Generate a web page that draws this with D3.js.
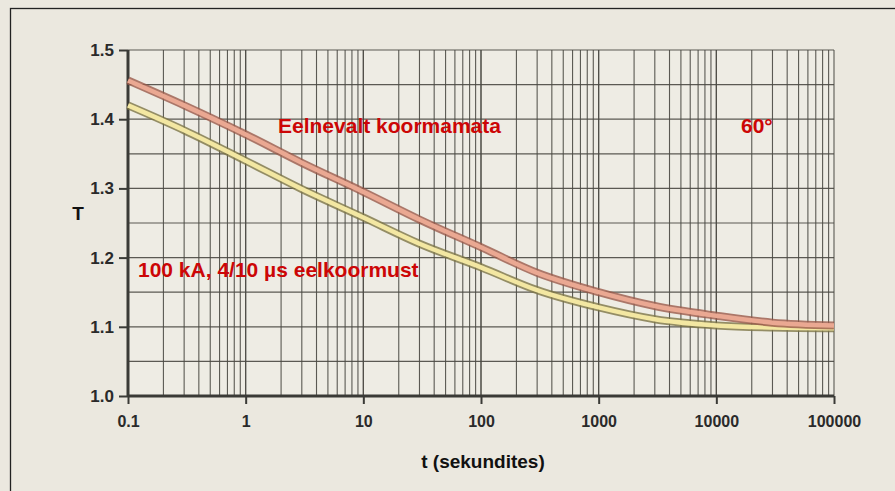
<!DOCTYPE html>
<html>
<head>
<meta charset="utf-8">
<script src="https://cdn.jsdelivr.net/npm/d3@7"></script>
<style>
  body { margin: 0; background: #ebe8df; }
  svg { display: block; }
  text { font-family: "Liberation Sans", Arial, sans-serif; font-weight: bold; }
</style>
</head>
<body>
<div id="chart"></div>
<script>
// time values (seconds), log axis
var times = [0.1, 0.3, 1, 3, 10, 30, 100, 300, 1000, 3000, 10000, 30000, 100000];
// T values
var upperT = [1.456, 1.420, 1.378, 1.337, 1.295, 1.255, 1.215, 1.178, 1.150, 1.130, 1.116, 1.106, 1.102];
var lowerT = [1.420, 1.384, 1.340, 1.299, 1.258, 1.220, 1.186, 1.153, 1.128, 1.111, 1.102, 1.099, 1.098];
var xTicks = [0.1, 1, 10, 100, 1000, 10000, 100000];
var xTickLabels = ["0.1", "1", "10", "100", "1000", "10000", "100000"];
var yTicks = [1.0, 1.1, 1.2, 1.3, 1.4, 1.5];
var yTickLabels = ["1.0", "1.1", "1.2", "1.3", "1.4", "1.5"];

var width = 895, height = 491;
var svg = d3.select("#chart").append("svg").attr("width", width).attr("height", height);

// frame
svg.append("rect").attr("x", 10.5).attr("y", 8.5).attr("width", 900).attr("height", 500)
  .attr("fill", "#ebe8df").attr("stroke", "#222").attr("stroke-width", 1.3);

var x = d3.scaleLog().domain([0.1, 100000]).range([128, 834]);
var y = d3.scaleLinear().domain([1.0, 1.5]).range([396, 50]);

// plot background
svg.append("rect").attr("x", x(0.1)).attr("y", y(1.5))
  .attr("width", x(100000) - x(0.1)).attr("height", y(1.0) - y(1.5))
  .attr("fill", "#eeece4");

// vertical grid (log minor lines)
var vGrid = [];
for (var d = -1; d < 5; d++) {
  for (var k = 1; k <= 10; k++) vGrid.push(k * Math.pow(10, d));
}
svg.append("g").selectAll("line").data(vGrid).enter().append("line")
  .attr("x1", function(v) { return x(v); }).attr("x2", function(v) { return x(v); })
  .attr("y1", y(1.5)).attr("y2", y(1.0))
  .attr("stroke", "#4a4942").attr("stroke-opacity", 0.9).attr("stroke-width", 1.1);

// horizontal grid every 0.05
var hGrid = d3.range(0, 11).map(function(i) { return 1 + i * 0.05; });
svg.append("g").selectAll("line").data(hGrid).enter().append("line")
  .attr("x1", x(0.1)).attr("x2", x(100000))
  .attr("y1", function(v) { return y(v); }).attr("y2", function(v) { return y(v); })
  .attr("stroke", "#4a4942").attr("stroke-opacity", 0.9).attr("stroke-width", 1.2);

// axes
var yAxis = d3.axisLeft(y).tickValues(yTicks)
  .tickFormat(function(d, i) { return yTickLabels[i]; }).tickSize(9).tickPadding(5);
var gy = svg.append("g").attr("transform", "translate(" + x(0.1) + ",0)").call(yAxis);
gy.select(".domain").attr("stroke", "#3a3a36").attr("stroke-width", 3).attr("d", "M0," + y(1.5) + "V" + y(1.0));
gy.selectAll(".tick line").attr("stroke", "#3a3a36").attr("stroke-width", 2);
gy.selectAll(".tick text").attr("fill", "#2a2a2a").style("font-size", "17px").style("font-family", "Liberation Sans, Arial, sans-serif").style("font-weight", "bold");

var xAxis = d3.axisBottom(x).tickValues(xTicks)
  .tickFormat(function(d, i) { return xTickLabels[i]; }).tickSize(8).tickPadding(12);
var gx = svg.append("g").attr("transform", "translate(0," + y(1.0) + ")").call(xAxis);
gx.select(".domain").attr("stroke", "#3a3a36").attr("stroke-width", 3).attr("d", "M" + x(0.1) + ",0H" + x(100000));
gx.selectAll(".tick line").attr("stroke", "#3a3a36").attr("stroke-width", 2);
gx.selectAll(".tick text").attr("fill", "#2a2a2a").style("font-size", "16px").style("font-family", "Liberation Sans, Arial, sans-serif").style("font-weight", "bold");

// curves
var line = d3.line()
  .x(function(d) { return x(d[0]); })
  .y(function(d) { return y(d[1]); })
  .curve(d3.curveMonotoneX);

var lowerData = times.map(function(t, i) { return [t, lowerT[i]]; });
var upperData = times.map(function(t, i) { return [t, upperT[i]]; });

svg.append("path").datum(lowerData).attr("d", line).attr("fill", "none")
  .attr("stroke", "#7d7545").attr("stroke-width", 8).attr("stroke-opacity", 0.8);
svg.append("path").datum(lowerData).attr("d", line).attr("fill", "none")
  .attr("stroke", "#f3e7a2").attr("stroke-width", 4.5);

svg.append("path").datum(upperData).attr("d", line).attr("fill", "none")
  .attr("stroke", "#9a5a4a").attr("stroke-width", 8).attr("stroke-opacity", 0.8);
svg.append("path").datum(upperData).attr("d", line).attr("fill", "none")
  .attr("stroke", "#eaa892").attr("stroke-width", 4.5);

// labels
svg.append("text").attr("x", 278).attr("y", 133).attr("fill", "#cc0606")
  .style("font-size", "21px").text("Eelnevalt koormamata");
svg.append("text").attr("x", 741).attr("y", 133).attr("fill", "#cc0606")
  .style("font-size", "21px").text("60°");
svg.append("text").attr("x", 138).attr("y", 277).attr("fill", "#cc0606")
  .style("font-size", "21px").text("100 kA, 4/10 µs eelkoormust");

svg.append("text").attr("x", 78).attr("y", 220).attr("text-anchor", "middle").attr("fill", "#111")
  .style("font-size", "19px").text("T");
svg.append("text").attr("x", 483).attr("y", 468).attr("text-anchor", "middle").attr("fill", "#111")
  .style("font-size", "19px").text("t (sekundites)");
</script>
</body>
</html>
